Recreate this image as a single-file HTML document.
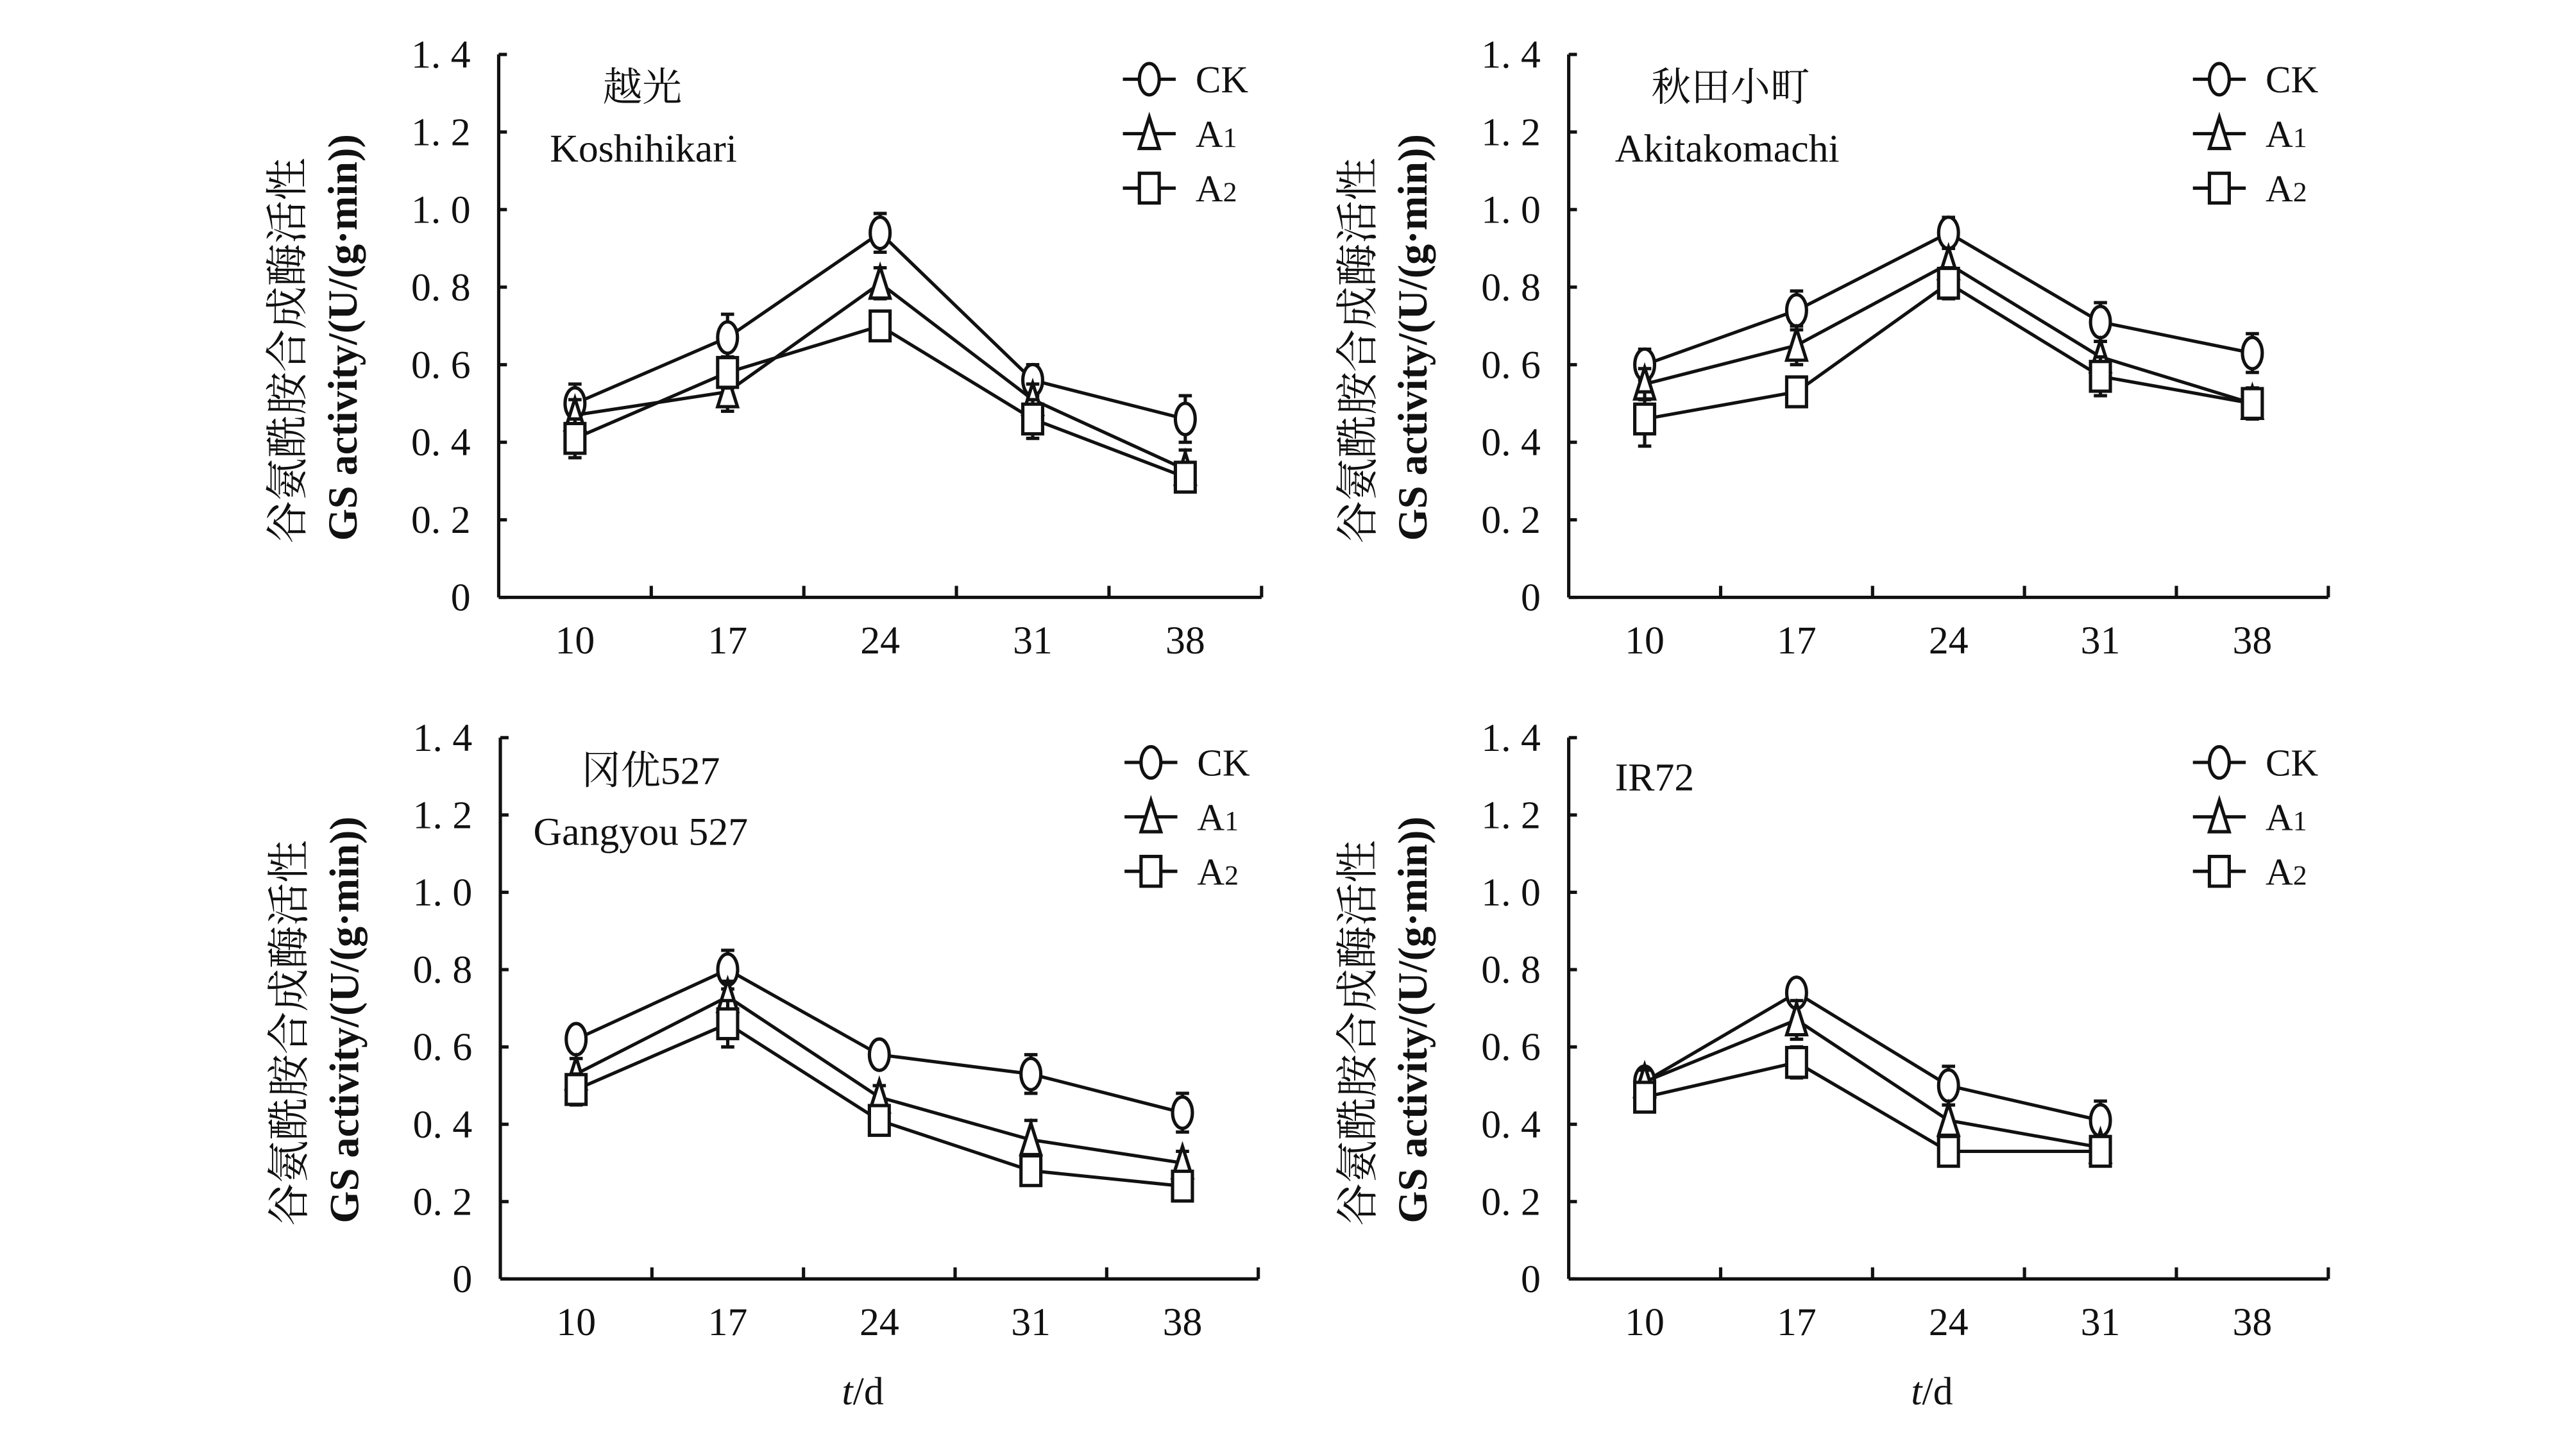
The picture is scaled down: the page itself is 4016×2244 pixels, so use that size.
<!DOCTYPE html>
<html><head><meta charset="utf-8"><style>
html,body{margin:0;padding:0;background:#fff;}
svg{display:block;}
text{font-family:"Liberation Serif","Noto Serif CJK SC",serif;fill:#111;}
</style></head><body>
<svg id="fig" width="4016" height="2244" viewBox="0 0 1560 872" preserveAspectRatio="none" xmlns="http://www.w3.org/2000/svg"></svg>
<script>
const days = ["10","17","24","31","38"];
const yTicks = [0,0.2,0.4,0.6,0.8,1.0,1.2,1.4];
const yTickLabels = ["0","0. 2","0. 4","0. 6","0. 8","1. 0","1. 2","1. 4"];
const seriesNames = ["CK","A1","A2"];
const p1CK = [0.50,0.67,0.94,0.56,0.46];
const p1A1 = [0.47,0.53,0.81,0.51,0.33];
const p1A2 = [0.41,0.58,0.70,0.46,0.31];
const p1Err = [[0.05,0.06,0.05,0.04,0.06],[0.04,0.05,0.04,0.04,0.05],[0.05,0.04,0.03,0.05,0.03]];
const p2CK = [0.60,0.74,0.94,0.71,0.63];
const p2A1 = [0.55,0.65,0.86,0.62,0.50];
const p2A2 = [0.46,0.53,0.81,0.57,0.50];
const p2Err = [[0.04,0.05,0.04,0.05,0.05],[0.04,0.05,0.04,0.04,0.04],[0.07,0.02,0.04,0.05,0.03]];
const p3CK = [0.62,0.80,0.58,0.53,0.43];
const p3A1 = [0.53,0.73,0.47,0.36,0.30];
const p3A2 = [0.49,0.66,0.41,0.28,0.24];
const p3Err = [[0.03,0.05,0.01,0.05,0.05],[0.04,0.04,0.03,0.05,0.03],[0.04,0.06,0.03,0.03,0.03]];
const p4CK = [0.51,0.74,0.50,0.41];
const p4A1 = [0.51,0.67,0.41,0.34];
const p4A2 = [0.47,0.56,0.33,0.33];
const p4Err = [[0.03,0.03,0.05,0.05],[0.03,0.05,0.04,0.03],[0.03,0.04,0.03,0.03]];

const NS="http://www.w3.org/2000/svg";
const svg=document.getElementById('fig');
function mk(tag,attrs,parent,txt){const e=document.createElementNS(NS,tag);for(const k in attrs)e.setAttribute(k,attrs[k]);if(txt!==undefined)e.textContent=txt;(parent||svg).appendChild(e);return e;}

const panels=[
 {id:"koshihikari",x0:302,x1:764,yTop:33,yBot:362,cn:"越光",en:"Koshihikari",cnx:365,enx:333,data:[p1CK,p1A1,p1A2],err:p1Err,xlabel:false},
 {id:"akitakomachi",x0:950,x1:1410,yTop:33,yBot:362,cn:"秋田小町",en:"Akitakomachi",cnx:1000,enx:978,data:[p2CK,p2A1,p2A2],err:p2Err,xlabel:false},
 {id:"gangyou527",x0:303,x1:762,yTop:447,yBot:775,cn:"冈优527",en:"Gangyou 527",cnx:352,enx:323,data:[p3CK,p3A1,p3A2],err:p3Err,xlabel:true},
 {id:"ir72",x0:950,x1:1410,yTop:447,yBot:775,cn:"",en:"IR72",cnx:0,enx:978,data:[p4CK,p4A1,p4A2],err:p4Err,xlabel:true}
];

function marker(g,kind,cx,cy){
  let m;
  if(kind===0) m=mk('ellipse',{cx:cx,cy:cy,rx:6,ry:9.5,fill:'#fff',stroke:'#111','stroke-width':2},g);
  else if(kind===1) m=mk('polygon',{points:`${cx},${cy-10} ${cx-6},${cy+9} ${cx+6},${cy+9}`,fill:'#fff',stroke:'#111','stroke-width':2},g);
  else m=mk('rect',{x:cx-6,y:cy-9,width:12,height:18,fill:'#fff',stroke:'#111','stroke-width':2},g);
  return m;
}

panels.forEach(p=>{
  const g=mk('g',{});
  
  
  const n=days.length, step=(p.x1-p.x0)/n;
  const xs=i=>p.x0+step*(i+0.5);
  const ys=v=>p.yBot-(v/1.4)*(p.yBot-p.yTop);
  const ya=mk('line',{x1:p.x0,y1:p.yTop,x2:p.x0,y2:p.yBot,stroke:'#111','stroke-width':2},g);
  
  
  const xa=mk('line',{x1:p.x0,y1:p.yBot,x2:p.x1,y2:p.yBot,stroke:'#111','stroke-width':2},g);
  
  
  yTicks.forEach((v,i)=>{
    mk('line',{x1:p.x0,y1:ys(v),x2:p.x0+5,y2:ys(v),stroke:'#111','stroke-width':2},g);
    const t=mk('text',{x:p.x0-17,y:ys(v)+8,'text-anchor':'end','font-size':24},g,yTickLabels[i]);
    
    
  });
  for(let i=1;i<=n;i++) mk('line',{x1:p.x0+step*i,y1:p.yBot,x2:p.x0+step*i,y2:p.yBot-7,stroke:'#111','stroke-width':2},g);
  days.forEach((d,i)=>{
    const t=mk('text',{x:xs(i),y:p.yBot+34,'text-anchor':'middle','font-size':24},g,d);
    
    
  });
  const cy=(p.yTop+p.yBot)/2+15;
  const t1=mk('text',{x:0,y:0,'text-anchor':'middle','font-size':26,transform:`translate(${p.x0-119},${cy}) rotate(-90)`},g,"谷氨酰胺合成酶活性");
  
  
  const t2=mk('text',{x:0,y:0,'text-anchor':'middle','font-size':25,'font-weight':'bold',transform:`translate(${p.x0-86},${cy-8}) rotate(-90)`},g,"GS activity/(U/(g·min))");
  
  
  if(p.cn){const c=mk('text',{x:p.cnx,y:p.yTop+28,'font-size':24},g,p.cn);
    
    }
  const e=mk('text',{x:p.enx,y:p.cn?p.yTop+65:p.yTop+32,'font-size':24},g,p.en);
  
  
  if(p.xlabel){
    const xl=mk('text',{x:(p.x0+p.x1)/2-10,y:p.yBot+76,'text-anchor':'middle','font-size':24},g);
    
    
    mk('tspan',{'font-style':'italic'},xl,'t');mk('tspan',{},xl,'/d');
  }
  p.data.forEach((arr,s)=>{
    const sg=mk('g',{},g);
    
    
    const pts=arr.map((v,i)=>xs(i)+','+ys(v)).join(' ');
    const pl=mk('polyline',{points:pts,fill:'none',stroke:'#111','stroke-width':2},sg);
    
    
    arr.forEach((v,i)=>{
      const er=p.err[s][i], x=xs(i);
      const eb=mk('path',{d:`M${x},${ys(v+er)}V${ys(v-er)}M${x-4},${ys(v+er)}H${x+4}M${x-4},${ys(v-er)}H${x+4}`,stroke:'#111','stroke-width':2,fill:'none'},sg);
      
      
      const m=marker(sg,s,x,ys(v));
      
      
    });
  });
  const lx=p.x0+378;
  const lg=mk('g',{},g);
  
  
  seriesNames.forEach((nm,s)=>{
    const ly=p.yTop+15+s*33;
    const le=mk('g',{},lg);
    
    
    mk('line',{x1:lx,y1:ly,x2:lx+32,y2:ly,stroke:'#111','stroke-width':2},le);
    marker(le,s,lx+16,ly);
    if(s===0){
      mk('text',{x:lx+44,y:ly+8,'font-size':23},le,nm);
    } else {
      const t=mk('text',{x:lx+44,y:ly+8,'font-size':23},le,nm[0]);
      mk('tspan',{'font-size':17},t,nm.slice(1));
    }
  });
});
</script>
</body></html>
